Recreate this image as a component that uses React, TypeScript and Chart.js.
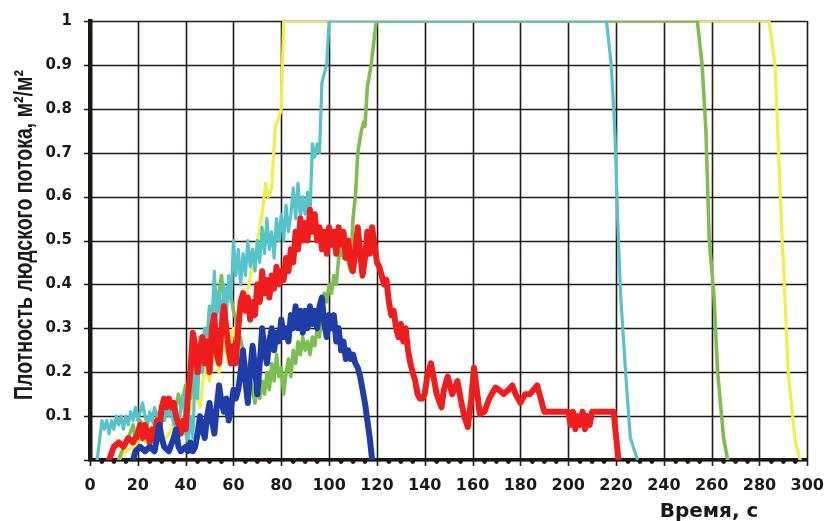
import React, { useEffect, useRef } from "react";
import { Chart, registerables } from "chart.js";

Chart.register(...registerables);

// Time axis ticks (s) and density ticks
const xTicks = [0, 20, 40, 60, 80, 100, 120, 140, 160, 180, 200, 220, 240, 260, 280, 300];
const yTicks = [0, 0.1, 0.2, 0.3, 0.4, 0.5, 0.6, 0.7, 0.8, 0.9, 1];

const xTitle = "Время, с";
const yTitle = "Плотность людского потока, м²/м²";

// Blue series
const blueT = [18, 19, 21, 23, 25, 27, 28, 29, 30, 31, 33, 35, 36, 37, 38, 40, 41, 42, 43, 44, 45, 46, 47, 48, 49, 50, 51, 52, 53, 54, 55, 56, 57, 58, 59, 60, 61, 62, 63, 64, 65, 66, 67, 68, 69, 70, 71, 72, 73, 74, 75, 76, 77, 78, 79, 80, 81, 82, 83, 84, 85, 86, 87, 88, 89, 90, 91, 92, 93, 94, 95, 96, 97, 98, 99, 100, 101, 102, 103, 104, 105, 106, 107, 108, 109, 110, 111, 112, 113, 114, 115, 116, 117, 118];
const blueD = [0, 0.02, 0.03, 0.02, 0.03, 0.02, 0.05, 0.08, 0.05, 0.03, 0.02, 0.05, 0.07, 0.03, 0.02, 0.03, 0.02, 0.04, 0.02, 0.03, 0.06, 0.1, 0.07, 0.05, 0.1, 0.13, 0.09, 0.06, 0.12, 0.17, 0.13, 0.11, 0.14, 0.09, 0.12, 0.16, 0.14, 0.16, 0.2, 0.25, 0.18, 0.13, 0.2, 0.26, 0.21, 0.15, 0.22, 0.3, 0.25, 0.22, 0.27, 0.3, 0.25, 0.29, 0.27, 0.32, 0.28, 0.3, 0.27, 0.33, 0.3, 0.35, 0.3, 0.34, 0.29, 0.34, 0.3, 0.35, 0.31, 0.34, 0.3, 0.35, 0.37, 0.31, 0.28, 0.33, 0.3, 0.33, 0.27, 0.3, 0.25, 0.27, 0.23, 0.25, 0.23, 0.24, 0.22, 0.21, 0.19, 0.16, 0.13, 0.09, 0.05, 0];

// Red series
const redT = [8, 10, 12, 14, 16, 18, 20, 21, 22, 23, 24, 25, 26, 27, 28, 29, 30, 31, 32, 33, 34, 35, 36, 37, 38, 39, 40, 41, 42, 43, 44, 45, 46, 47, 48, 49, 50, 51, 52, 53, 54, 55, 56, 57, 58, 59, 60, 61, 62, 63, 64, 65, 66, 67, 68, 69, 70, 71, 72, 73, 74, 75, 76, 77, 78, 79, 80, 81, 82, 83, 84, 85, 86, 87, 88, 89, 90, 91, 92, 93, 94, 95, 96, 97, 98, 99, 100, 101, 102, 103, 104, 105, 106, 107, 108, 109, 110, 111, 112, 113, 114, 115, 116, 117, 118, 119, 120, 121, 122, 123, 124, 125, 126, 127, 128, 129, 130, 131, 132, 133, 134, 135, 136, 137, 138, 139, 140, 141, 142.6, 144, 145, 147, 148, 149.6, 151.5, 153.7, 155, 156.5, 158, 159.5, 160.6, 162, 163, 165, 167, 169.6, 171, 173, 175, 176.6, 178, 180, 182, 184, 187, 188.5, 190, 200, 201, 202, 203, 204, 205, 206, 207, 208, 209, 210, 219, 221];
const redD = [0, 0.03, 0.04, 0.03, 0.05, 0.04, 0.06, 0.08, 0.05, 0.08, 0.06, 0.04, 0.07, 0.05, 0.09, 0.07, 0.12, 0.14, 0.12, 0.14, 0.12, 0.13, 0.1, 0.08, 0.06, 0.09, 0.07, 0.15, 0.2, 0.29, 0.26, 0.2, 0.25, 0.28, 0.22, 0.27, 0.2, 0.3, 0.33, 0.24, 0.22, 0.3, 0.35, 0.3, 0.25, 0.22, 0.26, 0.22, 0.3, 0.36, 0.38, 0.34, 0.37, 0.32, 0.36, 0.33, 0.4, 0.36, 0.43, 0.38, 0.41, 0.37, 0.42, 0.39, 0.44, 0.4, 0.43, 0.41, 0.46, 0.43, 0.48, 0.45, 0.52, 0.48, 0.55, 0.5, 0.54, 0.5, 0.57, 0.52, 0.56, 0.5, 0.53, 0.48, 0.52, 0.47, 0.53, 0.49, 0.52, 0.47, 0.53, 0.49, 0.52, 0.46, 0.5, 0.45, 0.43, 0.48, 0.53, 0.47, 0.42, 0.46, 0.52, 0.47, 0.53, 0.49, 0.45, 0.44, 0.42, 0.4, 0.41, 0.36, 0.33, 0.34, 0.3, 0.28, 0.31, 0.27, 0.3, 0.25, 0.22, 0.2, 0.18, 0.15, 0.14, 0.14, 0.15, 0.19, 0.22, 0.18, 0.15, 0.12, 0.16, 0.19, 0.15, 0.18, 0.14, 0.1, 0.075, 0.14, 0.21, 0.15, 0.105, 0.11, 0.14, 0.165, 0.16, 0.15, 0.16, 0.17, 0.15, 0.13, 0.15, 0.15, 0.17, 0.14, 0.11, 0.11, 0.08, 0.11, 0.07, 0.1, 0.08, 0.11, 0.07, 0.1, 0.08, 0.11, 0.11, 0];

// Cyan series
const cyanT = [3, 5, 6, 7, 8, 9, 10, 11, 12, 13, 14, 15, 16, 17, 18, 19, 20, 21, 22, 23, 24, 25, 26, 27, 28, 29, 30, 31, 32, 33, 34, 35, 36, 37, 38, 39, 40, 41, 42, 43, 44, 45, 46, 47, 48, 49, 50, 51, 52, 53, 54, 55, 56, 57, 58, 59, 60, 61, 62, 63, 64, 65, 66, 67, 68, 69, 70, 71, 72, 73, 74, 75, 76, 77, 78, 79, 80, 81, 82, 83, 84, 85, 86, 87, 88, 89, 90, 91, 92, 93, 94, 95, 96, 97, 98, 99, 100, 216, 218, 219.5, 221, 222, 224, 226, 229];
const cyanD = [0, 0.09, 0.07, 0.09, 0.06, 0.09, 0.07, 0.1, 0.08, 0.1, 0.07, 0.1, 0.08, 0.11, 0.09, 0.12, 0.09, 0.11, 0.13, 0.1, 0.08, 0.11, 0.09, 0.12, 0.1, 0.08, 0.11, 0.09, 0.13, 0.1, 0.12, 0.08, 0.11, 0.07, 0.12, 0.15, 0.06, 0.04, 0.1, 0.05, 0.2, 0.14, 0.28, 0.2, 0.3, 0.25, 0.35, 0.3, 0.43, 0.33, 0.38, 0.3, 0.4, 0.32, 0.42, 0.36, 0.5, 0.42, 0.48, 0.4, 0.47, 0.42, 0.5, 0.44, 0.48, 0.43, 0.5, 0.45, 0.53, 0.47, 0.55, 0.48, 0.52, 0.46, 0.55, 0.5, 0.56, 0.5, 0.58, 0.52, 0.56, 0.62, 0.55, 0.63, 0.55, 0.6, 0.56, 0.61, 0.55, 0.72, 0.69, 0.72, 0.7, 0.86, 0.88, 0.9, 1, 1, 0.9, 0.75, 0.5, 0.37, 0.2, 0.05, 0];

// Green series
const greenT = [12, 14, 16, 18, 19, 21, 23, 25, 27, 29, 31, 33, 35, 37, 38, 40, 42, 44, 46, 48, 49, 50, 51, 52, 53, 55, 56, 58, 60, 62, 64, 66, 68, 69, 70, 71, 72, 73, 74, 75, 76, 77, 78, 79, 80, 81, 82, 83, 84, 85, 86, 87, 88, 89, 90, 91, 92, 93, 94, 95, 96, 97, 98, 99, 100, 101, 102, 103, 104, 105, 106, 107, 108, 109, 110, 111, 112, 113.5, 114.5, 115, 116, 117.6, 119.7, 254, 256, 257.6, 259, 261, 262.5, 265, 266.7];
const greenD = [0, 0.03, 0.05, 0.08, 0.05, 0.09, 0.07, 0.1, 0.08, 0.11, 0.09, 0.13, 0.1, 0.15, 0.12, 0.17, 0.14, 0.22, 0.2, 0.3, 0.27, 0.35, 0.3, 0.4, 0.35, 0.42, 0.36, 0.4, 0.34, 0.3, 0.25, 0.2, 0.16, 0.13, 0.17, 0.14, 0.18, 0.15, 0.2, 0.16, 0.22, 0.18, 0.24, 0.19, 0.21, 0.15, 0.2, 0.23, 0.19, 0.25, 0.22, 0.27, 0.24, 0.28, 0.25, 0.27, 0.24, 0.28, 0.26, 0.3, 0.28, 0.35, 0.38, 0.36, 0.4, 0.38, 0.42, 0.4, 0.46, 0.48, 0.46, 0.49, 0.45, 0.43, 0.55, 0.6, 0.7, 0.75, 0.77, 0.76, 0.85, 0.9, 1, 1, 0.9, 0.75, 0.5, 0.37, 0.2, 0.05, 0];

// Yellow series
const yellowT = [12, 15, 18, 22, 25, 28, 32, 35, 38, 40, 42, 44, 46, 48, 50, 52, 54, 56, 58, 60, 62, 64, 66.5, 68, 70, 72, 73.5, 74.5, 76, 77.5, 79, 80, 81, 284, 286.5, 288, 289.5, 290, 292, 295, 297];
const yellowD = [0, 0.02, 0.03, 0.05, 0.03, 0.06, 0.05, 0.08, 0.1, 0.07, 0.12, 0.16, 0.12, 0.22, 0.18, 0.25, 0.2, 0.27, 0.22, 0.3, 0.28, 0.36, 0.4, 0.45, 0.5, 0.56, 0.63, 0.6, 0.62, 0.76, 0.78, 0.8, 1, 1, 0.9, 0.7, 0.5, 0.45, 0.2, 0.04, 0];

const pts = (t: number[], d: number[]) => t.map((x, i) => ({ x, y: d[i] }));

const INK = "#1e1816";
const AXIS_FONT = "'DejaVu Sans', sans-serif";

const gridPlugin = {
  id: "handGrid",
  beforeDatasetsDraw(chart: any) {
    const { ctx, chartArea, scales } = chart;
    const xs = scales.x;
    const ys = scales.y;
    ctx.save();
    ctx.strokeStyle = INK;
    ctx.lineWidth = 1.6;
    ctx.beginPath();
    xTicks.forEach((v) => {
      const px = Math.round(xs.getPixelForValue(v)) + 0.5;
      ctx.moveTo(px, chartArea.top);
      ctx.lineTo(px, chartArea.bottom + 6);
    });
    yTicks.forEach((v) => {
      const py = Math.round(ys.getPixelForValue(v)) + 0.5;
      ctx.moveTo(chartArea.left - 6, py);
      ctx.lineTo(chartArea.right, py);
    });
    ctx.stroke();
    ctx.restore();
  },
  afterDraw(chart: any) {
    const { ctx, chartArea, scales } = chart;
    const xs = scales.x;
    ctx.save();
    // minor dots on the time axis
    ctx.fillStyle = INK;
    for (let v = 5; v < 300; v += 5) {
      if (v % 20 === 0) continue;
      const px = xs.getPixelForValue(v);
      ctx.beginPath();
      ctx.arc(px, chartArea.bottom + 1.5, 2.4, 0, Math.PI * 2);
      ctx.fill();
    }
    // x title
    ctx.fillStyle = "#1a1a1a";
    ctx.font = `bold 20px ${AXIS_FONT}`;
    ctx.textAlign = "center";
    ctx.textBaseline = "alphabetic";
    ctx.fillText(xTitle, 709, 517);
    // y title (rotated, widened glyphs)
    ctx.font = `bold 19px 'Liberation Sans', Arial, sans-serif`;
    const w = ctx.measureText(yTitle).width;
    const size = 19 * 330 / w;
    ctx.font = `bold ${size.toFixed(2)}px 'Liberation Sans', Arial, sans-serif`;
    ctx.translate(25, 235);
    ctx.scale(1.35, 1);
    ctx.rotate(-Math.PI / 2);
    ctx.textAlign = "center";
    ctx.textBaseline = "middle";
    ctx.fillText(yTitle, 0, 0);
    ctx.restore();
  },
};

export default function App() {
  const ref = useRef<HTMLCanvasElement | null>(null);
  useEffect(() => {
    document.body.style.margin = "0";
    const canvas = ref.current;
    if (!canvas) return;
    const chart = new Chart(canvas, {
      type: "line",
      data: {
        datasets: [
          { data: pts(blueT, blueD), borderColor: "#1f3da6", borderWidth: 6 },
          { data: pts(redT, redD), borderColor: "#f01d1d", borderWidth: 6 },
          { data: pts(cyanT, cyanD), borderColor: "#56c2c9", borderWidth: 3.2 },
          { data: pts(greenT, greenD), borderColor: "#7dbf4e", borderWidth: 3.6 },
          { data: pts(yellowT, yellowD), borderColor: "#f4ef45", borderWidth: 3.2 },
        ].map((d) => ({
          ...d,
          pointRadius: 0,
          pointHoverRadius: 0,
          tension: 0,
          fill: false,
          borderJoinStyle: "round" as const,
          borderCapStyle: "round" as const,
        })),
      },
      options: {
        responsive: false,
        animation: false,
        events: [],
        layout: { padding: { top: 20, right: 21, left: 0, bottom: 0 } },
        plugins: { legend: { display: false }, tooltip: { enabled: false } },
        scales: {
          x: {
            type: "linear",
            min: 0,
            max: 300,
            afterFit: (s: any) => { s.height = 61; },
            afterBuildTicks: (s: any) => { s.ticks = xTicks.map((v) => ({ value: v })); },
            ticks: {
              color: "#1a1a1a",
              font: { family: AXIS_FONT, size: 16, weight: "bold" },
              padding: 10,
              maxRotation: 0,
              autoSkip: false,
              callback: (v: any) => String(v),
            },
            grid: { display: false, tickLength: 6 },
            border: { display: true, color: INK, width: 3.5 },
          },
          y: {
            type: "linear",
            min: 0,
            max: 1,
            afterFit: (s: any) => { s.width = 90; },
            afterBuildTicks: (s: any) => { s.ticks = yTicks.map((v) => ({ value: v })); },
            ticks: {
              color: "#1a1a1a",
              font: { family: AXIS_FONT, size: 15, weight: "bold" },
              padding: 12,
              autoSkip: false,
              callback: (v: any) => (v === 0 ? "" : Number(v).toFixed(v === 1 ? 0 : 1)),
            },
            grid: {
              display: true,
              drawOnChartArea: false,
              color: "rgba(0,0,0,0)",
              tickColor: "rgba(0,0,0,0)",
              tickLength: 6,
            },
            border: { display: true, color: INK, width: 4.5 },
          },
        },
      },
      plugins: [gridPlugin],
    } as any);
    return () => chart.destroy();
  }, []);
  return (
    <canvas
      ref={ref}
      width={834}
      height={521}
      style={{ display: "block", width: 834, height: 521, background: "#ffffff" }}
    />
  );
}
